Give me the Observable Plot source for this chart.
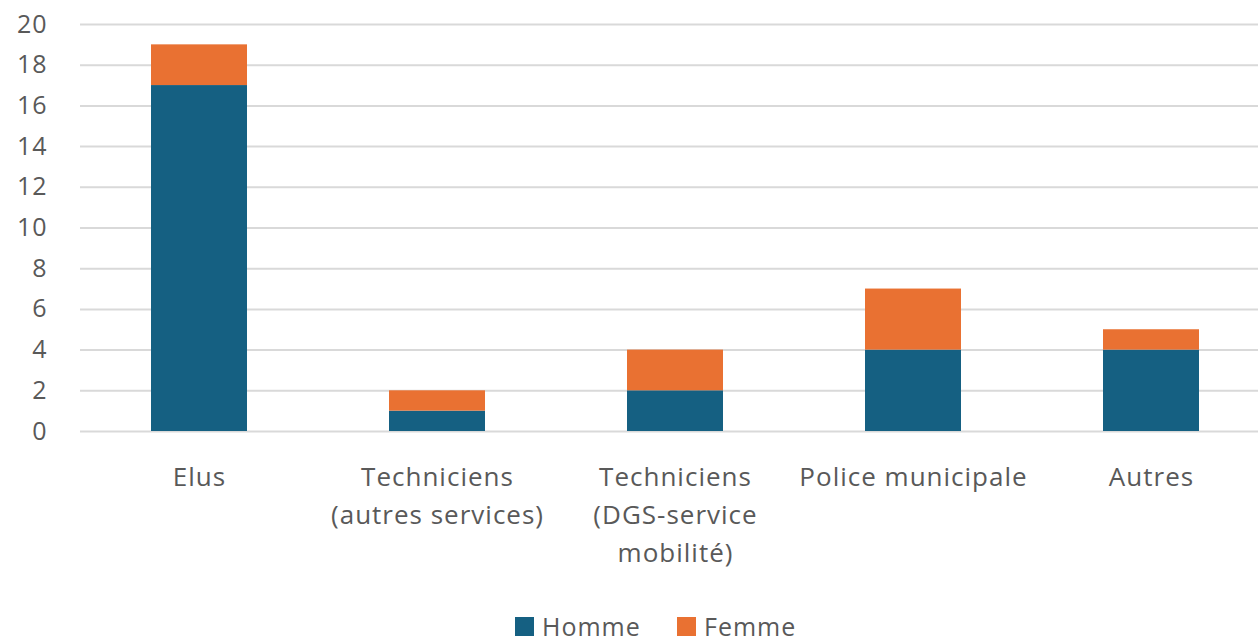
<!DOCTYPE html>
<html>
<head>
<meta charset="utf-8">
<script src="https://cdn.jsdelivr.net/npm/d3@7"></script>
<script src="https://cdn.jsdelivr.net/npm/@observablehq/plot@0.6"></script>
<style>
  body { margin: 0; background: #fff; font-family: "Open Sans", sans-serif; overflow: hidden; }
  #chart svg text { letter-spacing: 1px; }
  #legend { position: relative; height: 43px; font-size: 25px; letter-spacing: 1px; color: #595959; }
  .item { position: absolute; top: 12px; display: flex; align-items: center; gap: 8px; line-height: 28px; }
  .sw { width: 19px; height: 19px; display: inline-block; }
</style>
</head>
<body>
<div id="chart"></div>
<div id="legend"></div>
<script>
const categories = [
  "Elus",
  "Techniciens\n(autres services)",
  "Techniciens\n(DGS-service\nmobilité)",
  "Police municipale",
  "Autres"
];
const series = ["Homme", "Femme"];
const homme = [17, 1, 2, 4, 4];
const femme = [2, 1, 2, 3, 1];
const colors = ["#156082", "#e97132"];
const yTicks = [0, 2, 4, 6, 8, 10, 12, 14, 16, 18, 20];

const data = [];
categories.forEach((c, i) => {
  data.push({cat: c, series: "Homme", value: homme[i]});
  data.push({cat: c, series: "Femme", value: femme[i]});
});

const chart = Plot.plot({
  width: 1258,
  height: 600,
  marginTop: 24,
  marginBottom: 169,
  marginLeft: 80,
  marginRight: 0,
  style: {fontFamily: "Open Sans, sans-serif", color: "#595959", background: "#fff"},
  x: {domain: categories, range: [79, 1271], paddingInner: 0.597, paddingOuter: 0.2985, label: null},
  y: {domain: [0, 20], label: null},
  color: {domain: series, range: colors},
  marks: [
    Plot.gridY(yTicks, {stroke: "#d9d9d9", strokeOpacity: 1, strokeWidth: 2}),
    Plot.barY(data, {x: "cat", y: "value", fill: "series", order: series}),
    Plot.axisY(yTicks, {tickSize: 0, tickPadding: 33, fontSize: 25, fill: "#595959", label: null}),
    Plot.axisX({tickSize: 0, tickPadding: 28, fontSize: 26, fill: "#595959", lineHeight: 1.45, label: null})
  ]
});
document.getElementById("chart").appendChild(chart);

const legend = document.getElementById("legend");
const lefts = [515, 677];
series.forEach((s, i) => {
  const it = document.createElement("div");
  it.className = "item";
  it.style.left = lefts[i] + "px";
  const sw = document.createElement("span");
  sw.className = "sw";
  sw.style.background = colors[i];
  it.appendChild(sw);
  const t = document.createElement("span");
  t.textContent = s;
  it.appendChild(t);
  legend.appendChild(it);
});
</script>
</body>
</html>
